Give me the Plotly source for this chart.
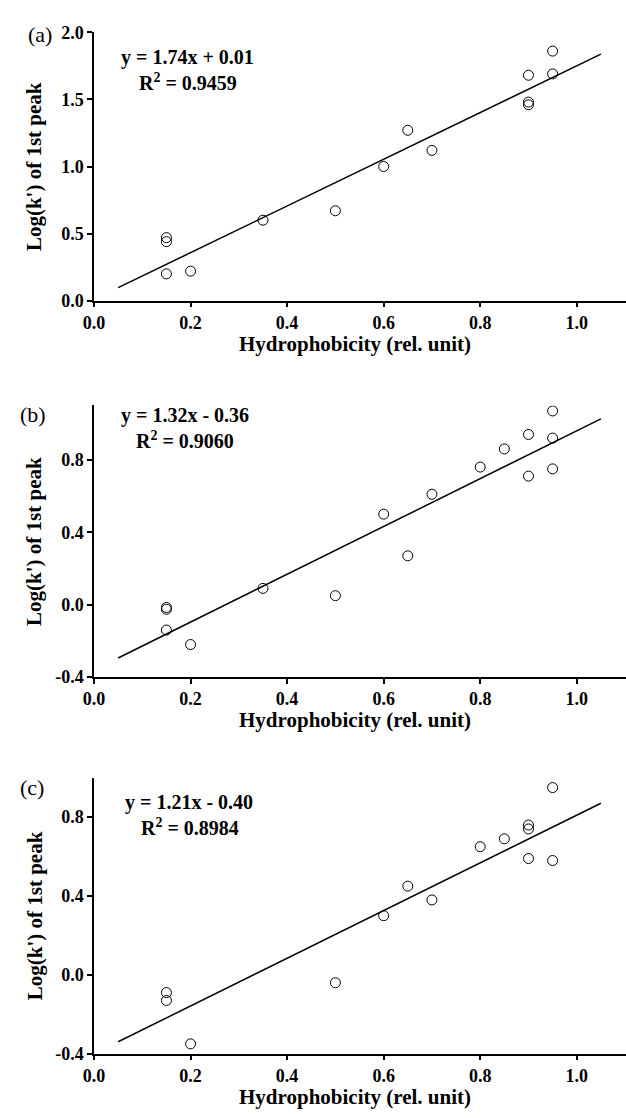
import plotly.graph_objects as go

W, H = 626, 1118

# ---------------- data ----------------
a_x = [0.15, 0.15, 0.15, 0.20, 0.35, 0.50, 0.60, 0.65, 0.70, 0.90, 0.90, 0.90, 0.95, 0.95]
a_y = [0.47, 0.44, 0.20, 0.22, 0.60, 0.67, 1.00, 1.27, 1.12, 1.68, 1.48, 1.46, 1.86, 1.69]
a_fit_x = [0.05, 1.05]
a_fit_y = [0.097, 1.837]

b_x = [0.15, 0.15, 0.15, 0.20, 0.35, 0.50, 0.60, 0.65, 0.70, 0.80, 0.85, 0.90, 0.90, 0.95, 0.95, 0.95]
b_y = [-0.015, -0.025, -0.14, -0.22, 0.09, 0.05, 0.50, 0.27, 0.61, 0.76, 0.86, 0.94, 0.71, 1.07, 0.92, 0.75]
b_fit_x = [0.05, 1.05]
b_fit_y = [-0.294, 1.026]

c_x = [0.15, 0.15, 0.20, 0.50, 0.60, 0.65, 0.70, 0.80, 0.85, 0.90, 0.90, 0.90, 0.95, 0.95]
c_y = [-0.09, -0.13, -0.35, -0.04, 0.30, 0.45, 0.38, 0.65, 0.69, 0.76, 0.74, 0.59, 0.95, 0.58]
c_fit_x = [0.05, 1.05]
c_fit_y = [-0.3395, 0.8705]

x_ticks = [0.0, 0.2, 0.4, 0.6, 0.8, 1.0]
a_yticks = [0.0, 0.5, 1.0, 1.5, 2.0]
b_yticks = [-0.4, 0.0, 0.4, 0.8]
c_yticks = [-0.4, 0.0, 0.4, 0.8]

labels = ["(a)", "(b)", "(c)"]
equations = ["y = 1.74x + 0.01", "y = 1.32x - 0.36", "y = 1.21x - 0.40"]
r2_values = ["0.9459", "0.9060", "0.8984"]
x_title = "Hydrophobicity (rel. unit)"
y_title = "Log(k') of 1st peak"

# ---------------- layout helpers ----------------
FONT = "Liberation Serif, Times New Roman, serif"


def fx(px):
    return px / W


def fy(py):
    return 1 - py / H


# pixel boxes of each panel: (top, bottom)
panels = [(22.7, 296.0), (402.7, 679.3), (781.7, 1062.7)]
yranges = [[0, 2.0], [-0.4, 1.1], [-0.4, 1.0]]
yticks = [a_yticks, b_yticks, c_yticks]
xs = [a_x, b_x, c_x]
ys = [a_y, b_y, c_y]
fits = [(a_fit_x, a_fit_y), (b_fit_x, b_fit_y), (c_fit_x, c_fit_y)]

fig = go.Figure()
layout = dict(
    width=W, height=H,
    margin=dict(l=0, r=0, t=0, b=0),
    paper_bgcolor="white", plot_bgcolor="white",
    showlegend=False,
    font=dict(family=FONT, color="black"),
)
annotations = []

label_pos = [(15, 25), (7, 412), (7, 792)]
eq_pos = [((110, 48), (128, 73)), ((110, 413), (125, 438)), ((114, 807), (130, 832))]

for i in range(3):
    sfx = "" if i == 0 else str(i + 1)
    xa, ya = "x" + sfx, "y" + sfx
    top, bot = panels[i]
    fig.add_trace(go.Scatter(
        x=fits[i][0], y=fits[i][1], mode="lines",
        line=dict(color="black", width=1.5),
        xaxis=xa, yaxis=ya, hoverinfo="skip"))
    fig.add_trace(go.Scatter(
        x=xs[i], y=ys[i], mode="markers",
        marker=dict(symbol="circle-open", size=10, color="black",
                    line=dict(width=1, color="black")),
        xaxis=xa, yaxis=ya))
    layout["xaxis" + sfx] = dict(
        domain=[fx(84.5), 1.0], range=[0, 1.102], anchor=ya,
        tickmode="array", tickvals=x_ticks,
        ticktext=[f"{v:.1f}" for v in x_ticks],
        ticks="outside", ticklen=5, tickwidth=1.5, tickcolor="black",
        showline=True, linecolor="black", linewidth=1.5,
        showgrid=False, zeroline=False,
        tickfont=dict(family=FONT, size=18, color="black", weight="bold"),
    )
    layout["yaxis" + sfx] = dict(
        domain=[fy(bot), fy(top)], range=yranges[i], anchor=xa,
        tickmode="array", tickvals=yticks[i],
        ticktext=[f"{v:.1f}" for v in yticks[i]],
        ticks="outside", ticklen=5, tickwidth=1.5, tickcolor="black",
        showline=True, linecolor="black", linewidth=1.5,
        showgrid=False, zeroline=False,
        tickfont=dict(family=FONT, size=18, color="black", weight="bold"),
    )
    # panel label
    annotations.append(dict(
        text=labels[i], xref="paper", yref="paper",
        x=fx(label_pos[i][0]), y=fy(label_pos[i][1]),
        xanchor="left", yanchor="middle", showarrow=False,
        font=dict(family=FONT, size=22, color="black")))
    # equation and R2
    (ex, ey), (rx, ry) = eq_pos[i]
    annotations.append(dict(
        text="<b>" + equations[i] + "</b>", xref="paper", yref="paper",
        x=fx(ex), y=fy(ey), xanchor="left", yanchor="middle", showarrow=False,
        font=dict(family=FONT, size=20, color="black")))
    annotations.append(dict(
        text="<b>R<sup>2</sup> = " + r2_values[i] + "</b>", xref="paper", yref="paper",
        x=fx(rx), y=fy(ry), xanchor="left", yanchor="middle", showarrow=False,
        font=dict(family=FONT, size=20, color="black")))
    # axis titles
    annotations.append(dict(
        text="<b>" + x_title + "</b>", xref="paper", yref="paper",
        x=fx(350), y=fy(bot + 44), xanchor="center", yanchor="middle",
        showarrow=False, font=dict(family=FONT, size=21, color="black")))
    annotations.append(dict(
        text="<b>" + y_title + "</b>", xref="paper", yref="paper",
        x=fx(24), y=fy((top + bot) / 2), xanchor="center", yanchor="middle",
        textangle=-90, showarrow=False,
        font=dict(family=FONT, size=21, color="black")))

layout["annotations"] = annotations
fig.update_layout(**layout)
fig.write_html("out.html")
